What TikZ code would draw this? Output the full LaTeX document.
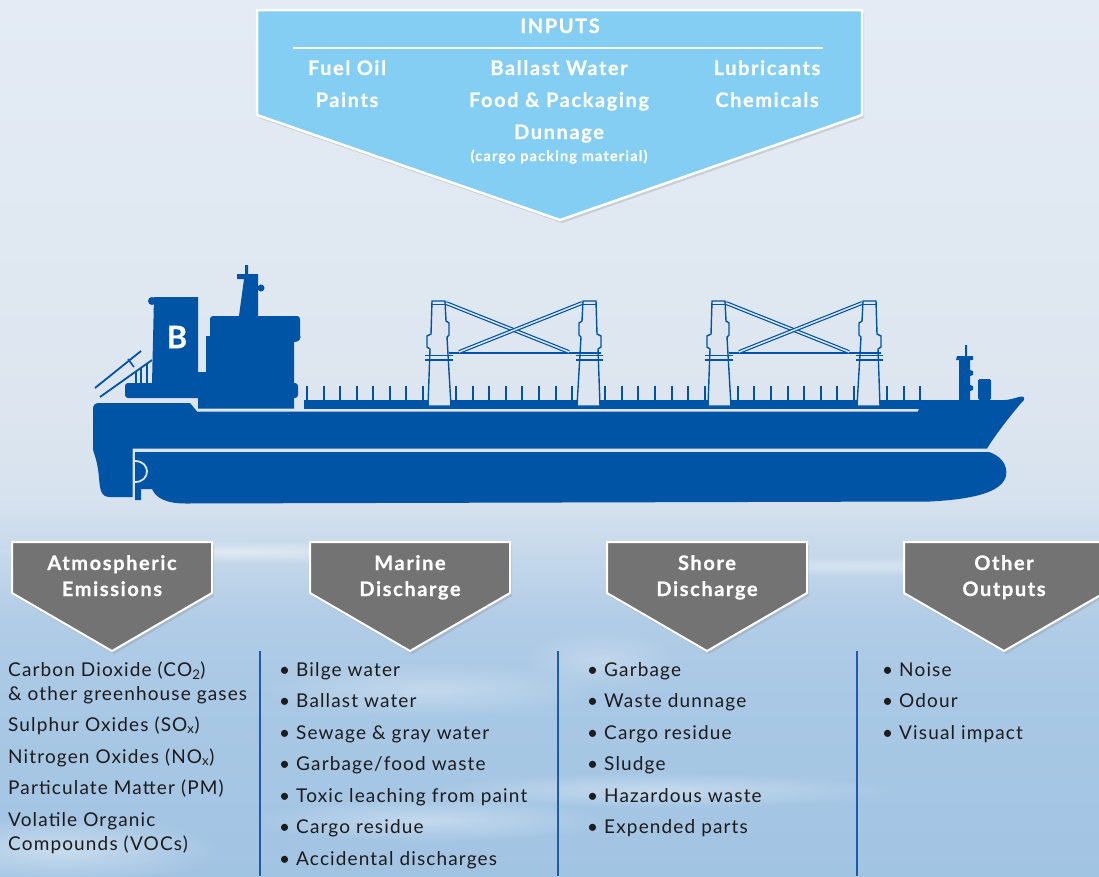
\documentclass[tikz,border=0pt]{standalone}
\usepackage{fontspec}
\setmainfont{Lato}[LetterSpace=6]
\newfontfamily\headfont{Lato}[LetterSpace=8, BoldFeatures={FakeBold=0.7}]
\usetikzlibrary{shadows,fadings}

\definecolor{shipblue}{HTML}{0054A6}
\definecolor{inblue}{HTML}{84CEF3}
\definecolor{boxgray}{HTML}{737373}
\definecolor{txt}{HTML}{1E1B1C}
\definecolor{rulecol}{HTML}{1F5BAA}
\definecolor{skyship}{HTML}{DDE6F0}
\definecolor{skyA}{HTML}{E4EBF4}
\definecolor{skyB}{HTML}{DDE6F0}
\definecolor{skyC}{HTML}{D6E2EE}
\definecolor{skyD}{HTML}{C3D7EA}
\definecolor{skyE}{HTML}{B1CCE6}
\definecolor{skyF}{HTML}{A8C8E5}
\definecolor{skyG}{HTML}{A2C4E3}

% sky: picture top maps to 75bp, bottom to 25bp
\pgfdeclareverticalshading{sky}{100bp}{%
  color(0bp)=(skyG); color(25bp)=(skyG); color(35bp)=(skyF);
  color(39.6bp)=(skyE); color(43bp)=(skyD); color(46.5bp)=(skyC);
  color(52bp)=(skyB); color(75bp)=(skyA); color(100bp)=(skyA)}

\tikzfading[name=softblob, inner color=transparent!0, outer color=transparent!100]

\begin{document}
\begin{tikzpicture}[x=1pt,y=-1pt,
  ship/.style={fill=shipblue},
  crane/.style={draw=shipblue,line width=1.4pt,fill=skyship,line join=miter},
  brace/.style={draw=shipblue,double=skyship,double distance=1.5pt,line width=1.2pt},
  bar/.style={draw=shipblue,line width=1.3pt},
  cloud/.style={white,path fading=softblob},
  inbox/.style={fill=inblue,draw=white,line width=2.5pt,line join=miter,
    drop shadow={opacity=0.25,shadow xshift=2pt,shadow yshift=-3pt}},
  graybox/.style={fill=boxgray,draw=white,line width=2pt,line join=miter,
    drop shadow={opacity=0.25,shadow xshift=2pt,shadow yshift=-3pt}},
  intext/.style={text=white,font=\headfont\fontsize{20}{22}\selectfont\bfseries,anchor=base,inner sep=0pt},
  insmall/.style={text=white,font=\headfont\fontsize{14.5}{16}\selectfont\bfseries,anchor=base,inner sep=0pt},
  boxtext/.style={text=white,font=\headfont\fontsize{20}{22}\selectfont\bfseries,anchor=base,inner sep=0pt},
  item/.style={text=txt,font=\fontsize{19}{21}\selectfont,anchor=base west,inner sep=0pt},
  divider/.style={draw=rulecol,line width=2.2pt}
]
\useasboundingbox (0,0) rectangle (1099,876);

% ---------- sky ----------
\fill[shading=sky] (0,0) rectangle (1099,876);
\fill[cloud,opacity=0.45] (230,552) ellipse (260 and 12);
\fill[cloud,opacity=0.35] (860,566) ellipse (230 and 10);
\fill[cloud,opacity=0.30] (430,690) ellipse (170 and 28);
\fill[cloud,opacity=0.35] (660,790) ellipse (240 and 18);
\fill[cloud,opacity=0.35] (430,820) ellipse (180 and 22);
\fill[cloud,opacity=0.40] (60,850) ellipse (160 and 34);
\fill[cloud,opacity=0.25] (600,660) ellipse (80 and 30);

% ---------- inputs arrow ----------
\path[inbox] (257,10) -- (862,10) -- (862,115) -- (560,220) -- (257,115) -- cycle;
\node[intext] (inTitle) at (560,33) {INPUTS};
\draw[white,line width=1.3pt] (293,48) -- (823,48);
\node[intext] (inFuel)  at (347,75)  {Fuel Oil};
\node[intext] (inBall)  at (559,75)  {Ballast Water};
\node[intext] (inLub)   at (767,75)  {Lubricants};
\node[intext] (inPaint) at (347,107) {Paints};
\node[intext] (inFood)  at (559,107) {Food \& Packaging};
\node[intext] (inChem)  at (767,107) {Chemicals};
\node[intext] (inDun)   at (559,139) {Dunnage};
\node[insmall] (inCargo) at (559,161) {(cargo packing material)};

% ---------- ship ----------
% deck railing posts
\foreach \i in {0,...,37}
  \fill[ship] ({306+\i*16.57},386) rectangle ++(2,14);
% deck band above the sheer stripe
\fill[ship] (304,400) rectangle (922,408.5);
% stern platform
\fill[ship,rounded corners=3pt] (125,383) -- (298,383) -- (298,398) -- (125,398) -- cycle;
% funnel
\fill[ship] (154,297) -- (198,297) -- (198,384) -- (152,384) -- cycle;
\fill[ship] (152,301) circle (4);
% accommodation block
\fill[ship] (198,384) -- (198,372) -- (206,372) -- (206,336) -- (210,336)
  [rounded corners=3pt] -- (210,316) -- (300,316) -- (300,341) [sharp corners] -- (294,342)
  -- (294,408.5) -- (198,408.5) -- cycle;
\fill[ship] (297,337) circle (3.5);
% mast on the bridge
\fill[ship] (239,316) -- (244,279) -- (237,279) -- (237,274) -- (245,274) -- (245,265)
  -- (248,265) -- (248,274) -- (258,274) -- (258,316) -- cycle;
\fill[ship] (261,288) circle (3.5);
% stern ladders and posts
\draw[shipblue,line width=1.8pt] (95,388) -- (141,351);
\draw[shipblue,line width=1.8pt] (100,397) -- (152,360);
\draw[shipblue,line width=1.6pt] (128,359) -- (134,367);
\foreach \x in {136,141,147}
  \draw[shipblue,line width=1.6pt] (\x,{397-(\x-100)*37/52}) -- (\x,384);
% funnel mark
\node[text=white,font=\headfont\fontsize{31}{31}\selectfont\bfseries,inner sep=0pt] (logoB) at (177,337) {B};
% main hull above the bilge stripe
\fill[ship] (99,403) -- (190,403) -- (197,411.5) -- (918,411.5) -- (922,400) -- (1005,400)
  .. controls (1013,399.5) and (1018,396.5) .. (1022,396.5)
  .. controls (1025,397) and (1025,400) .. (1022,402)
  .. controls (1010,416) and (996,434) .. (987,448.5) -- (132.5,448.5) -- (132.5,497)
  -- (110,497) .. controls (101,497) and (100,490) .. (99,478)
  .. controls (98,464) and (95,456) .. (93,450) -- (93,409)
  .. controls (93,405) and (95,403) .. (99,403) -- cycle;
% lower hull and bulbous bow
\fill[ship] (135,452) -- (989,452) .. controls (1001,456) and (1008,465) .. (1006,476)
  .. controls (1002,491) and (978,499) .. (930,501.5) -- (186,503.5)
  .. controls (166,503.5) and (156,498) .. (152,489) -- (141,489) -- (141,500) -- (135,500) -- cycle;
\draw[skyship,line width=1.8pt] (135,461) .. controls (151,461) and (151,482) .. (135,482);
% forward mast and deck house
\fill[ship] (959,400) -- (959,360) -- (956,360) -- (957,356) -- (965,356) -- (965,345)
  -- (967,345) -- (967,356) -- (973,356) -- (973,360) -- (970,360) -- (970,370)
  -- (973,371) -- (973,375) -- (970,376) -- (970,385) -- (973,386) -- (973,390)
  -- (970,391) -- (970,400) -- cycle;
\fill[ship,rounded corners=1.5pt] (978,400) -- (978,379) -- (991,379) -- (991,400) -- cycle;
% deck cranes
\foreach \dx in {0,280}{
  \begin{scope}[xshift=\dx pt]
    \path[crane] (432,301) -- (445,301) -- (446,321) -- (449,323) -- (449,335) -- (447,337)
      -- (451,406) -- (428,406) -- (430,349) -- (427,347) -- (427,336) -- (431,334) -- cycle;
    \path[crane] (596,301) -- (583,301) -- (582,321) -- (579,323) -- (579,335) -- (581,337)
      -- (577,406) -- (600,406) -- (598,349) -- (601,347) -- (601,336) -- (597,334) -- cycle;
    \draw[bar] (432,304.5) -- (445,304.5);
    \draw[bar] (583,304.5) -- (596,304.5);
    \draw[bar] (449,353) -- (601,353);
    \draw[bar] (425,355.5) -- (453,355.5);
    \draw[bar] (425,360) -- (453,360);
    \draw[bar] (576,355.5) -- (603,355.5);
    \draw[bar] (576,360) -- (603,360);
    \draw[brace] (446,303) -- (569,352);
    \draw[brace] (582,303) -- (459,352);
  \end{scope}
}

% ---------- output arrows ----------
\foreach \cx/\nm/\la/\lb in {112/atm/Atmospheric/Emissions, 410/mar/Marine/Discharge,
                             707/sho/Shore/Discharge, 1004/oth/Other/Outputs}{
  \path[graybox] (\cx-100,542) -- (\cx+100,542) -- (\cx+100,593) -- (\cx,651)
    -- (\cx-100,593) -- cycle;
  \node[boxtext] (\nm A) at (\cx,570) {\la};
  \node[boxtext] (\nm B) at (\cx,596) {\lb};
}

% ---------- column dividers ----------
\draw[divider] (260,651) -- (260,876);
\draw[divider] (558,651) -- (558,876);
\draw[divider] (857,651) -- (857,876);

% ---------- atmospheric emissions ----------
\node[item] (a1) at (8,676) {Carbon Dioxide (CO\textsubscript{2})};
\node[item] (a2) at (8,700) {\& other greenhouse gases};
\node[item] (a3) at (8,731) {Sulphur Oxides (SO\textsubscript{x})};
\node[item] (a4) at (8,763) {Nitrogen Oxides (NO\textsubscript{x})};
\node[item] (a5) at (8,794) {Particulate Matter (PM)};
\node[item] (a6) at (8,826) {Volatile Organic};
\node[item] (a7) at (8,850) {Compounds (VOCs)};

% ---------- marine discharge ----------
\node[item] (m1) at (279,676) {•\ Bilge water};
\node[item] (m2) at (279,707) {•\ Ballast water};
\node[item] (m3) at (279,739) {•\ Sewage \& gray water};
\node[item] (m4) at (279,770) {•\ Garbage/food waste};
\node[item] (m5) at (279,802) {•\ Toxic leaching from paint};
\node[item] (m6) at (279,833) {•\ Cargo residue};
\node[item] (m7) at (279,865) {•\ Accidental discharges};

% ---------- shore discharge ----------
\node[item] (s1) at (587,676) {•\ Garbage};
\node[item] (s2) at (587,707) {•\ Waste dunnage};
\node[item] (s3) at (587,739) {•\ Cargo residue};
\node[item] (s4) at (587,770) {•\ Sludge};
\node[item] (s5) at (587,802) {•\ Hazardous waste};
\node[item] (s6) at (587,833) {•\ Expended parts};

% ---------- other outputs ----------
\node[item] (o1) at (882,676) {•\ Noise};
\node[item] (o2) at (882,707) {•\ Odour};
\node[item] (o3) at (882,739) {•\ Visual impact};
\end{tikzpicture}
\end{document}
